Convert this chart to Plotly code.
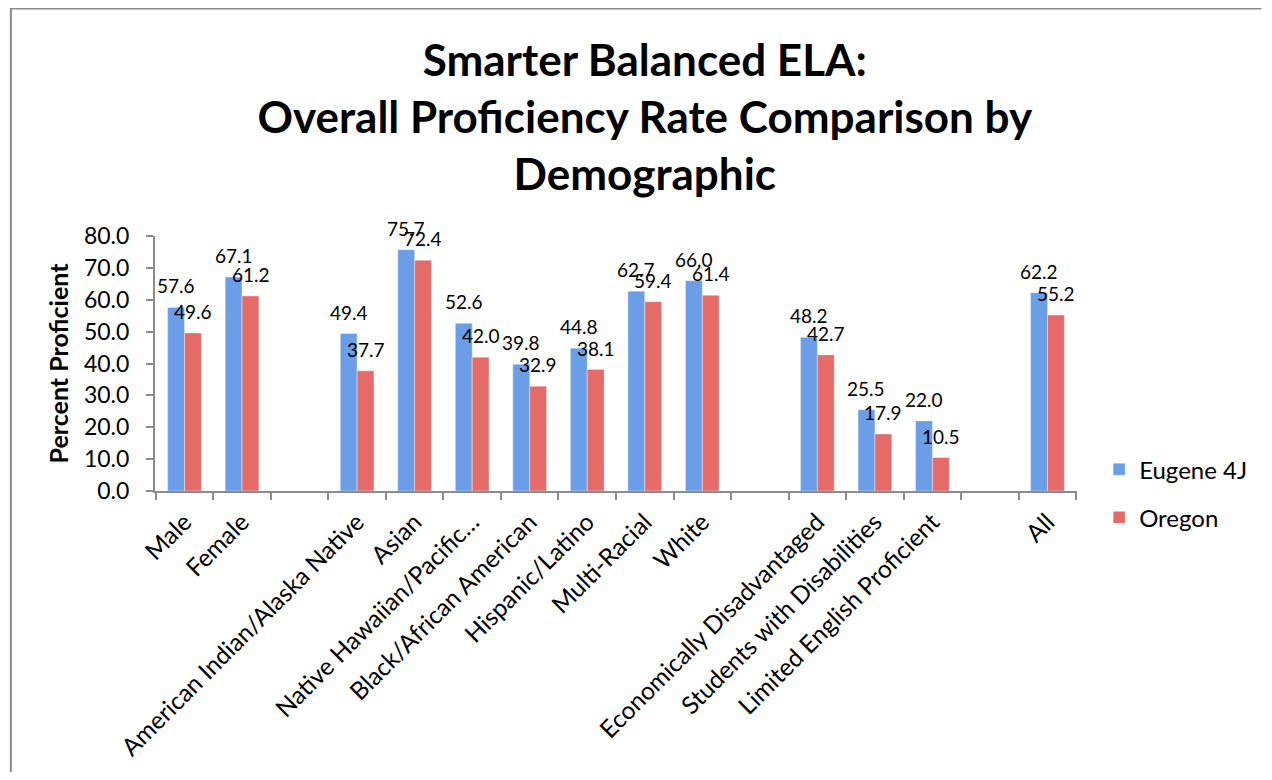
import plotly.graph_objects as go

# categories (blank entries are the spacer slots between groups)
categories = ["Male", "Female", " ", "American Indian/Alaska Native", "Asian",
              "Native Hawaiian/Pacific…", "Black/African American", "Hispanic/Latino",
              "Multi-Racial", "White", "  ", "Economically Disadvantaged",
              "Students with Disabilities", "Limited English Proficient", "   ", "All"]
eugene = [57.6, 67.1, None, 49.4, 75.7, 52.6, 39.8, 44.8, 62.7, 66.0, None,
          48.2, 25.5, 22.0, None, 62.2]
oregon = [49.6, 61.2, None, 37.7, 72.4, 42.0, 32.9, 38.1, 59.4, 61.4, None,
          42.7, 17.9, 10.5, None, 55.2]

FONT = "Lato"
GREY = "#8c8c8c"

fig = go.Figure()
fig.add_trace(go.Bar(x=categories, y=eugene, name="Eugene 4J", legendgroup="a",
                     marker=dict(color="#6b9ee6")))
fig.add_trace(go.Bar(x=categories, y=oregon, name="Oregon", legendgroup="b",
                     marker=dict(color="#e46b68")))

# value labels sit above each bar (excel style)
annotations = []
for vals, shift in ((eugene, -8.5), (oregon, 8.5)):
    for cat, v in zip(categories, vals):
        if v is None:
            continue
        annotations.append(dict(x=cat, y=v, xref="x", yref="y", text="{:.1f}".format(v),
                                showarrow=False, xshift=shift, yshift=8, yanchor="bottom",
                                font=dict(size=19, family=FONT, color="black")))

# the page body has an 8px margin, so the figure is a bit smaller than the window
fig.update_layout(
    width=1256, height=764,
    paper_bgcolor="white", plot_bgcolor="white",
    font=dict(family=FONT, color="black"),
    barmode="group", bargap=0.414, bargroupgap=0,
    margin=dict(l=147, r=181, t=228, b=281),
    title=dict(text="<b>Smarter Balanced ELA:<br>Overall Proficiency Rate Comparison by<br>Demographic</b>",
               x=0.507, xanchor="center", xref="container",
               y=0.911, yanchor="top", yref="container",
               font=dict(size=44, family=FONT, color="black")),
    xaxis=dict(tickangle=-45, tickfont=dict(size=24.5), showline=True, linecolor=GREY,
               linewidth=2, ticks="outside", tickson="boundaries", ticklen=7,
               tickcolor=GREY, tickwidth=2, showgrid=False, ticklabelstandoff=5),
    yaxis=dict(range=[0, 80], dtick=10, tickformat=".1f", tickfont=dict(size=23),
               showline=True, linecolor=GREY, linewidth=2, ticks="outside",
               ticklen=7, tickcolor=GREY, tickwidth=2, showgrid=False, zeroline=False,
               ticklabelstandoff=12,
               title=dict(text="<b>Percent Proficient</b>", font=dict(size=25), standoff=8)),
    legend=dict(x=1.024, xanchor="left", y=-0.01, yanchor="middle",
                font=dict(size=24), tracegroupgap=14, bgcolor="rgba(0,0,0,0)"),
    annotations=annotations,
    shapes=[
        dict(type="line", xref="paper", yref="paper", x0=-0.1563, x1=1.2, y0=1.894, y1=1.894,
             line=dict(color=GREY, width=3)),
        dict(type="line", xref="paper", yref="paper", x0=-0.1563, x1=-0.1563, y0=1.894, y1=-1.2,
             line=dict(color=GREY, width=2)),
    ],
)

fig.write_html("out.html")
